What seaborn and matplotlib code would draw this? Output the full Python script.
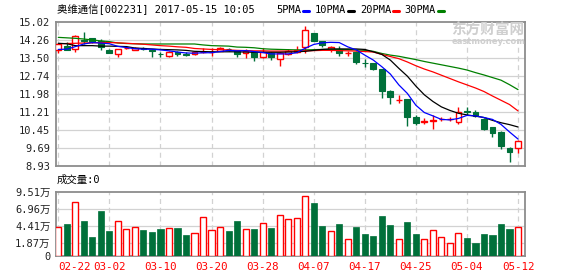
import numpy as np
import pandas as pd
import matplotlib
matplotlib.use("Agg")
import matplotlib.pyplot as plt
import seaborn as sns

# ---------------- data ----------------
opens = [13.84, 14.00, 13.87, 14.27, 14.33, 14.22, 13.84, 13.67, 13.90, 13.84,
         13.92, 13.84, 13.68, 13.58, 13.76, 13.66, 13.67, 13.74, 13.74, 13.81,
         13.88, 13.81, 13.69, 13.74, 13.53, 13.70, 13.46, 13.67, 13.76, 13.95,
         14.54, 14.20, 13.87, 13.89, 13.70, 13.76, 13.30, 13.27, 13.02, 12.12,
         11.72, 11.76, 11.02, 10.77, 10.85, 10.90, 10.90, 10.80, 11.25, 11.23,
         10.92, 10.57, 10.38, 9.71, 9.68]
highs = [14.08, 14.17, 14.46, 14.60, 14.35, 14.29, 13.86, 13.88, 14.00, 13.96,
         13.98, 13.88, 13.74, 13.78, 13.78, 13.76, 13.78, 13.90, 13.94, 13.96,
         13.94, 13.84, 13.86, 13.80, 13.92, 13.74, 13.74, 13.86, 14.00, 14.86,
         14.56, 14.22, 14.00, 14.00, 13.80, 13.78, 13.44, 13.30, 13.05, 12.15,
         11.93, 11.78, 11.08, 10.94, 11.09, 11.00, 11.00, 11.44, 11.44, 11.30,
         10.95, 10.60, 10.40, 9.75, 10.02]
lows = [13.70, 13.82, 13.76, 14.10, 14.13, 13.83, 13.70, 13.53, 13.86, 13.82,
        13.84, 13.56, 13.56, 13.56, 13.58, 13.58, 13.64, 13.70, 13.60, 13.78,
        13.80, 13.52, 13.50, 13.38, 13.50, 13.41, 13.17, 13.62, 13.70, 13.72,
        14.20, 13.95, 13.74, 13.58, 13.60, 13.24, 13.13, 12.98, 11.82, 11.54,
        11.58, 10.64, 10.67, 10.72, 10.50, 10.82, 10.82, 10.72, 11.09, 11.00,
        10.47, 10.14, 9.65, 9.11, 9.49]
closes = [14.08, 13.84, 14.43, 14.22, 14.17, 13.98, 13.73, 13.87, 13.93, 13.93,
          13.88, 13.80, 13.65, 13.76, 13.66, 13.63, 13.76, 13.77, 13.76, 13.92,
          13.86, 13.68, 13.81, 13.55, 13.74, 13.53, 13.70, 13.81, 13.84, 14.68,
          14.23, 14.03, 13.98, 13.72, 13.72, 13.34, 13.27, 13.05, 12.12, 11.84,
          11.74, 11.02, 10.74, 10.82, 10.87, 10.92, 10.93, 11.20, 11.22, 11.06,
          10.49, 10.34, 9.79, 9.54, 10.00]
# up-day flags (red hollow) as shown in the chart
up = [1, 0, 1, 0, 0, 0, 0, 1, 1, 1, 0, 0, 0, 1, 0, 0, 1, 1, 1, 1,
      0, 0, 1, 0, 1, 0, 1, 1, 1, 1, 0, 0, 1, 0, 1, 0, 0, 0, 0, 0,
      1, 0, 0, 1, 1, 1, 1, 1, 0, 0, 0, 0, 0, 0, 1]
volume = [4.24, 4.73, 7.93, 5.17, 2.81, 6.65, 3.70, 5.12, 3.94, 4.24,
          3.84, 3.55, 3.99, 4.09, 4.14, 3.10, 3.35, 5.72, 3.84, 4.24,
          3.70, 5.17, 3.94, 3.99, 4.83, 4.14, 6.01, 5.42, 5.57, 8.82,
          7.83, 4.43, 3.65, 4.73, 2.46, 4.29, 3.25, 2.96, 5.91, 4.58,
          2.46, 5.03, 3.25, 2.46, 3.79, 2.76, 1.92, 3.40, 2.66, 1.92,
          3.25, 3.10, 4.73, 3.99, 4.24]
ma5 = [13.86, 13.87, 13.98, 14.09, 14.15, 14.13, 14.10, 13.99, 13.94, 13.89,
       13.87, 13.87, 13.84, 13.80, 13.75, 13.71, 13.70, 13.72, 13.72, 13.77,
       13.82, 13.80, 13.81, 13.77, 13.73, 13.67, 13.67, 13.67, 13.72, 13.91,
       14.07, 14.14, 14.16, 14.15, 13.97, 13.84, 13.62, 13.41, 13.13, 12.82,
       12.36, 12.00, 11.50, 11.19, 11.05, 10.90, 10.88, 10.94, 11.07, 11.05,
       10.98, 10.90, 10.69, 10.37, 10.07]
ma10 = [14.12, 14.10, 14.02, 14.02, 14.02, 14.00, 14.00, 13.99, 13.98, 13.92,
        13.90, 13.88, 13.86, 13.85, 13.84, 13.82, 13.78, 13.77, 13.76, 13.76,
        13.76, 13.76, 13.75, 13.74, 13.74, 13.74, 13.74, 13.75, 13.76, 13.78,
        13.82, 13.86, 13.88, 13.88, 13.88, 13.88, 13.86, 13.76, 13.65, 13.41,
        13.06, 12.73, 12.31, 11.94, 11.66, 11.43, 11.28, 11.16, 11.09, 11.04,
        10.98, 10.86, 10.76, 10.68, 10.58]
ma20 = [14.10, 14.11, 14.12, 14.13, 14.14, 14.15, 14.15, 14.14, 14.12, 14.10,
        14.08, 14.05, 14.02, 14.00, 13.97, 13.95, 13.90, 13.88, 13.86, 13.85,
        13.84, 13.82, 13.81, 13.80, 13.80, 13.79, 13.79, 13.79, 13.79, 13.80,
        13.81, 13.82, 13.82, 13.81, 13.80, 13.79, 13.77, 13.75, 13.65, 13.56,
        13.47, 13.33, 13.17, 13.03, 12.91, 12.77, 12.63, 12.49, 12.36, 12.23,
        12.08, 11.89, 11.71, 11.53, 11.26]
ma30 = [14.37, 14.35, 14.33, 14.30, 14.26, 14.22, 14.19, 14.13, 14.11, 14.10,
        14.09, 14.09, 14.09, 14.09, 14.09, 14.09, 14.09, 14.05, 14.02, 14.01,
        14.00, 13.96, 13.95, 13.93, 13.89, 13.87, 13.86, 13.85, 13.84, 13.84,
        13.85, 13.86, 13.86, 13.86, 13.85, 13.84, 13.82, 13.78, 13.69, 13.62,
        13.57, 13.50, 13.43, 13.35, 13.28, 13.21, 13.14, 13.07, 12.99, 12.88,
        12.78, 12.67, 12.56, 12.37, 12.16]
date_labels = ["02-22", "03-02", "03-10", "03-20", "03-28",
               "04-07", "04-17", "04-25", "05-04", "05-12"]
price_ticks = [8.93, 9.69, 10.45, 11.21, 11.98, 12.74, 13.50, 14.26, 15.02]
vol_ticks = [1.87, 4.41, 6.96, 9.51]
vol_tick_labels = ["1.87万", "4.41万", "6.96万", "9.51万"]
title_name = "奥维通信[002231] 2017-05-15 10:05"
ma_names = ["5PMA", "10PMA", "20PMA", "30PMA"]
volume_title = "成交量:0"

# ---------------- style ----------------
sns.set_style("white")
FONT = ["DejaVu Sans Mono", "Noto Sans CJK SC"]
plt.rcParams["font.family"] = FONT
plt.rcParams["font.size"] = 7.5

RED = "#ff0000"
GREEN = "#00703a"
GRID = "#d2d2d2"
SPINE = "#8c8c8c"
TXT = "#222222"

W, H = 578, 276
fig = plt.figure(figsize=(W / 100, H / 100), dpi=100)
ax1 = fig.add_axes([56 / W, 110 / H, 469 / W, 144 / H])
ax2 = fig.add_axes([56 / W, 20 / H, 469 / W, 64.3 / H])

n = len(closes)
idx = np.arange(n)
df = pd.DataFrame({"i": idx, "open": opens, "high": highs, "low": lows,
                   "close": closes, "up": up, "vol": volume,
                   "ma5": ma5, "ma10": ma10, "ma20": ma20, "ma30": ma30})

xmin, xmax = -0.27, n - 1 + 0.82
grid_pos = list(range(0, n, 6))

for ax in (ax1, ax2):
    ax.set_xlim(xmin, xmax)
    for s in ax.spines.values():
        s.set_color(SPINE)
        s.set_linewidth(1.3)
    for g in grid_pos:
        ax.axvline(g, color=GRID, lw=0.9, ls=(0, (4, 3)), zorder=0)

# ---------------- price panel ----------------
ax1.set_ylim(price_ticks[0], price_ticks[-1])
ax1.set_yticks(price_ticks)
ax1.set_yticklabels([f"{t:.2f}" for t in price_ticks], color=TXT)
for t in price_ticks[1:-1]:
    ax1.axhline(t, color=GRID, lw=0.9, zorder=0)
ax1.set_xticks([])
ax1.tick_params(axis="y", length=2, pad=2, color=SPINE)

bw = 0.68
for _, r in df.iterrows():
    col = RED if r["up"] else GREEN
    lo_b, hi_b = min(r["open"], r["close"]), max(r["open"], r["close"])
    ax1.vlines(r["i"], r["low"], r["high"], color=col, lw=1.0, zorder=2)
    hgt = max(hi_b - lo_b, 0.012)
    if r["up"]:
        ax1.bar(r["i"], hgt, bottom=lo_b, width=bw, facecolor="white",
                edgecolor=col, linewidth=1.0, zorder=3)
    else:
        ax1.bar(r["i"], hgt, bottom=lo_b, width=bw, facecolor=col,
                edgecolor=col, linewidth=0.8, zorder=3)

for key, c in [("ma30", "#008000"), ("ma20", RED), ("ma10", "black"), ("ma5", "#0000ff")]:
    sns.lineplot(data=df, x="i", y=key, color=c, lw=0.9, ax=ax1, zorder=4)
ax1.set_xlabel("")
ax1.set_ylabel("")
ax1.set_xlim(xmin, xmax)

# ---------------- volume panel ----------------
ax2.set_ylim(0, 9.51)
ax2.set_yticks([0] + vol_ticks)
ax2.set_yticklabels(["0"] + vol_tick_labels, color=TXT)
for t in vol_ticks[:-1]:
    ax2.axhline(t, color=GRID, lw=0.9, zorder=0)
ax2.tick_params(axis="y", length=2, pad=2, color=SPINE)
for _, r in df.iterrows():
    if r["up"]:
        ax2.bar(r["i"], r["vol"], width=0.72, facecolor="white",
                edgecolor=RED, linewidth=1.0, zorder=3)
    else:
        ax2.bar(r["i"], r["vol"], width=0.72, facecolor=GREEN,
                edgecolor=GREEN, linewidth=0.5, zorder=3)
ax2.set_xticks(grid_pos)
ax2.set_xticklabels(date_labels, color=RED, fontsize=7.8)
ax2.get_xticklabels()[0].set_horizontalalignment("left")
ax2.tick_params(axis="x", length=0, pad=4)

# ---------------- texts ----------------
def ftext(px, py, s, **kw):
    fig.text(px / W, 1 - py / H, s, va="center", **kw)

ftext(57, 10, title_name, fontsize=7.5, color="black", family=FONT)
ma_cols = ["#0000ff", "black", RED, "#008000"]
x0 = 276
for name, c in zip(ma_names, ma_cols):
    ftext(x0, 10, name, fontsize=7.5, color="black", family=FONT)
    x0 += 6.2 * len(name) + 2
    fig.add_artist(plt.Line2D([x0 / W, (x0 + 6) / W], [1 - 11 / H, 1 - 11 / H],
                              color=c, lw=2.2))
    x0 += 12
ftext(57, 180, volume_title, fontsize=7.5, color="black", family=FONT)

# watermark
ftext(451, 30, "东方财富网", fontsize=10.5, color="#cfcfcf", weight="bold",
      family=["Noto Sans CJK SC"])
ftext(452, 42, "eastmoney.com", fontsize=6, color="#cfcfcf", weight="bold",
      family=["DejaVu Sans"])

fig.savefig("out.png", dpi=100)
